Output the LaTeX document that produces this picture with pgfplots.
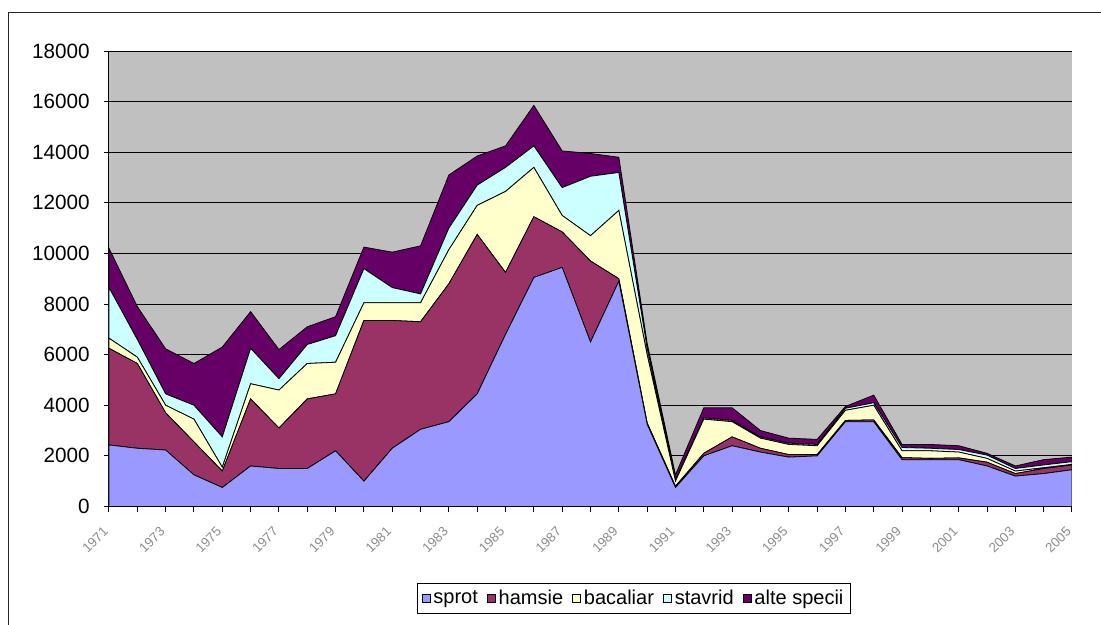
\documentclass[border=0pt]{standalone}
\usepackage{fontspec}
\setmainfont{Liberation Sans}
\usepackage{pgfplots}
\usepackage{pgfplotstable}
\pgfplotsset{compat=1.18}
\definecolor{sprotc}{HTML}{9999FF}
\definecolor{hamsiec}{HTML}{993366}
\definecolor{bacc}{HTML}{FFFFCC}
\definecolor{stavc}{HTML}{CCFFFF}
\definecolor{altec}{HTML}{660066}
\definecolor{plotbg}{HTML}{C0C0C0}
\definecolor{tickgray}{HTML}{8C8C8C}

\pgfplotstableread{
year sprot hamsie bacaliar stavrid alte
1971 2430 3820 400 2000 1550
1972 2300 3350 250 700 1300
1973 2230 1470 300 450 1780
1974 1250 1300 900 550 1650
1975 750 650 150 1200 3550
1976 1600 2650 600 1400 1450
1977 1500 1600 1500 450 1150
1978 1500 2750 1400 750 700
1979 2200 2250 1250 1050 750
1980 1000 6350 700 1350 850
1981 2300 5050 700 600 1400
1982 3050 4250 750 350 1900
1983 3350 5450 1350 850 2100
1984 4450 6300 1150 800 1150
1985 6800 2450 3200 950 850
1986 9050 2400 1950 850 1600
1987 9450 1400 650 1100 1450
1988 6500 3200 1000 2350 900
1989 8900 100 2700 1500 600
1990 3250 50 2700 250 200
1991 750 50 200 50 200
1992 2000 100 1350 50 400
1993 2400 350 600 50 500
1994 2150 150 400 50 250
1995 1950 100 400 50 200
1996 2000 50 350 50 200
1997 3350 50 400 80 70
1998 3350 70 580 100 300
1999 1850 80 270 130 120
2000 1850 50 300 100 150
2001 1850 70 230 100 150
2002 1600 150 150 130 70
2003 1200 100 100 100 100
2004 1300 200 30 110 210
2005 1450 190 20 110 180
}\datatable

\begin{document}
\begin{tikzpicture}
\useasboundingbox (0pt,0pt) rectangle (825.75pt,-468.75pt);
\draw[line width=0.75pt, black!85] (6pt,-475pt) -- (6pt,-9pt) -- (830pt,-9pt);
\begin{axis}[
  at={(81.75pt,-38.25pt)}, anchor=north west,
  width=722.25pt, height=341.6pt, scale only axis,
  xmin=1971, xmax=2005, ymin=0, ymax=18000,
  stack plots=y,
  axis background/.style={fill=plotbg},
  axis lines*=left,
  axis line style={black, line width=0.75pt, -},
  ymajorgrids,
  major grid style={black, line width=0.75pt},
  tick align=outside,
  major tick length=4pt, minor tick length=4pt,
  tick style={black, line width=0.75pt},
  xtick={1971,1973,...,2005},
  minor xtick={1972,1974,...,2004},
  ytick={0,2000,...,18000},
  scaled x ticks=false, scaled y ticks=false,
  yticklabel style={font=\fontsize{15.5}{15.5}\selectfont, xshift=-7pt},
  xticklabel style={xshift=-5pt, yshift=-9pt, rotate=45, anchor=north east,
    font=\fontsize{10}{10}\selectfont, text=tickgray, inner sep=1pt},
  legend columns=-1,
  legend style={at={(0.5452,-0.168)}, anchor=north, draw=black, line width=0.75pt,
    font=\fontsize{15}{15}\selectfont, inner sep=3pt,
    /tikz/every even column/.append style={column sep=5pt}},
  legend image code/.code={\draw[#1, draw=black, line width=0.6pt] (0pt,-3pt) rectangle (6pt,3pt);},
  /pgf/number format/1000 sep={},
  /pgf/number format/assume math mode=true,
]
\addplot[fill=sprotc, draw=black, line width=0.6pt] table[x=year, y=sprot]{\datatable} \closedcycle;
\addplot[fill=hamsiec, draw=black, line width=0.6pt] table[x=year, y=hamsie]{\datatable} \closedcycle;
\addplot[fill=bacc, draw=black, line width=0.6pt] table[x=year, y=bacaliar]{\datatable} \closedcycle;
\addplot[fill=stavc, draw=black, line width=0.6pt] table[x=year, y=stavrid]{\datatable} \closedcycle;
\addplot[fill=altec, draw=black, line width=0.6pt] table[x=year, y=alte]{\datatable} \closedcycle;
\legend{sprot, hamsie, bacaliar, stavrid, alte specii}
\end{axis}
\end{tikzpicture}
\end{document}
